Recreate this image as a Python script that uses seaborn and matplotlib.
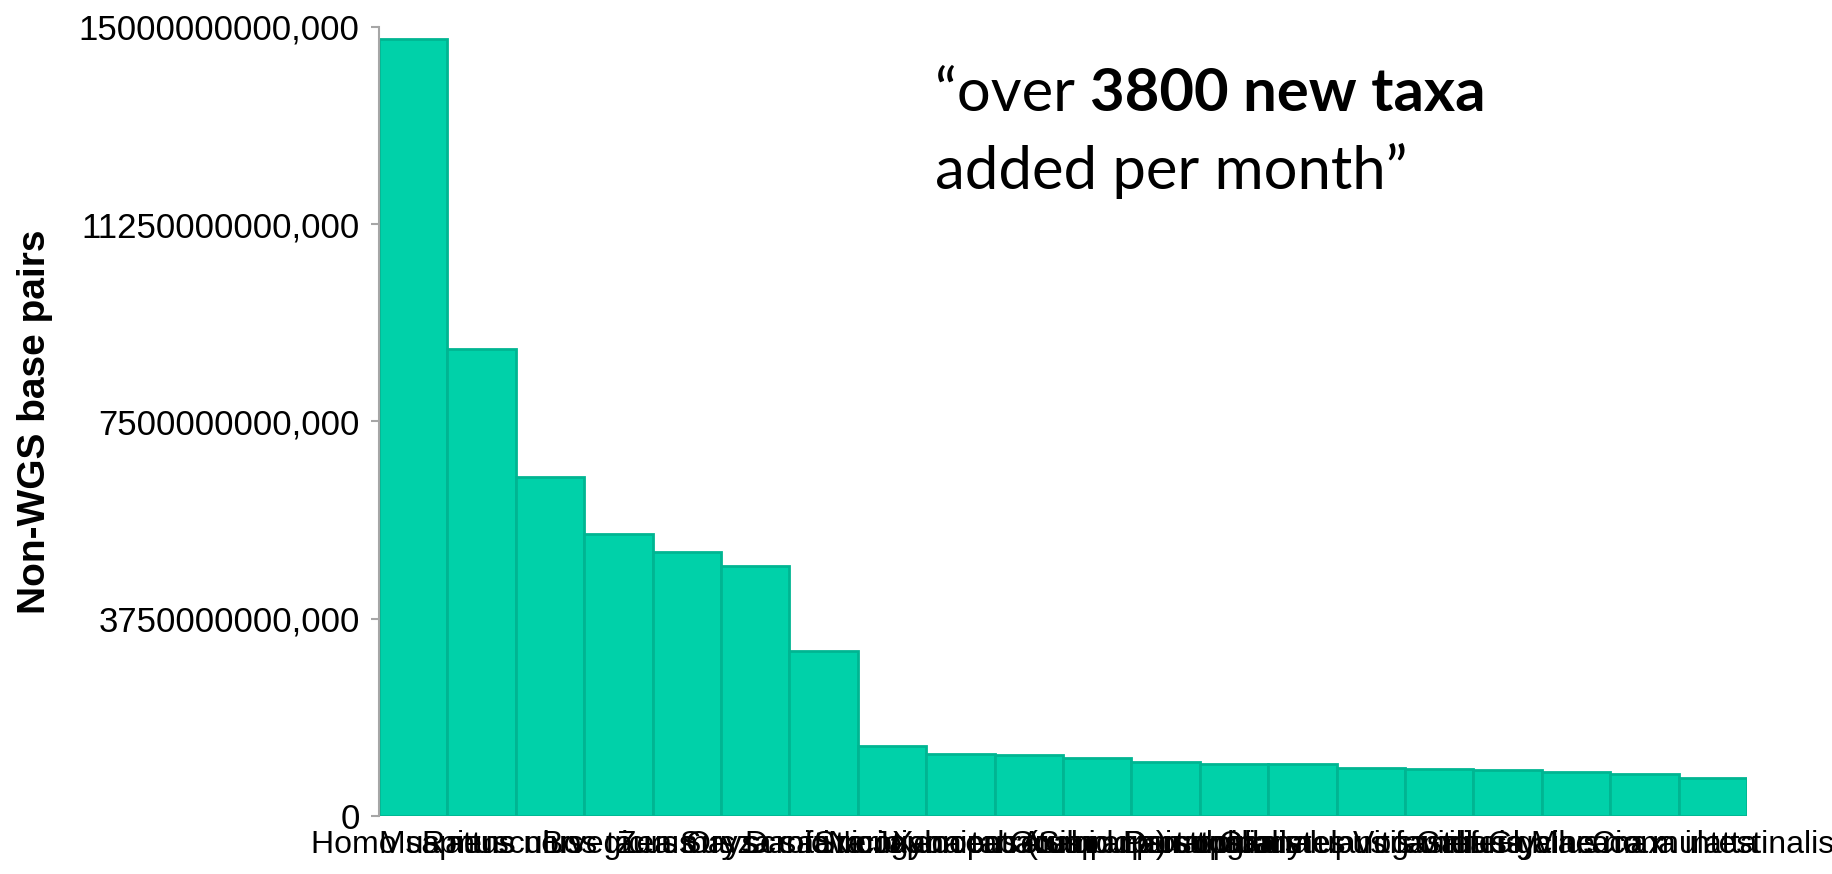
import matplotlib
matplotlib.use("Agg")
import matplotlib.pyplot as plt
import seaborn as sns
import pandas as pd
from matplotlib.ticker import FuncFormatter

species = [
    "Homo sapiens", "Mus musculus", "Rattus norvegicus", "Bos taurus",
    "Zea mays", "Sus scrofa", "Danio rerio", "Oryza sativa Japonica Group",
    "Nicotiana tabacum", "Strongylocentrotus purpuratus",
    "Xenopus (Silurana) tropicalis", "Arabidopsis thaliana",
    "Pan troglodytes", "Drosophila melanogaster", "Canis lupus familiaris",
    "Vitis vinifera", "Gallus gallus", "Glycine max", "Macaca mulatta",
    "Ciona intestinalis",
]
base_pairs = [
    14.78e12, 8.87e12, 6.44e12, 5.36e12, 5.02e12, 4.76e12, 3.13e12,
    1.33e12, 1.18e12, 1.16e12, 1.11e12, 1.02e12, 0.98e12, 0.98e12,
    0.91e12, 0.89e12, 0.87e12, 0.84e12, 0.80e12, 0.73e12,
]
y_ticks = [0, 3.75e12, 7.5e12, 11.25e12, 15e12]

df = pd.DataFrame({"species": species, "bp": base_pairs})

sns.set_theme(style="white")
plt.rcParams["font.family"] = ["Liberation Sans", "DejaVu Sans"]
plt.rcParams["text.color"] = "black"
plt.rcParams["axes.labelcolor"] = "black"
plt.rcParams["xtick.color"] = "black"
plt.rcParams["ytick.color"] = "black"

fig = plt.figure(figsize=(18.33, 8.74), dpi=100)
ax = fig.add_axes([379 / 1833, 1 - 816 / 874, (1747 - 379) / 1833, (816 - 27) / 874])

sns.barplot(data=df, x="species", y="bp", ax=ax, width=1.0,
            color="#00D1A9", saturation=1, edgecolor="#00B592", linewidth=2)

ax.set_xlim(-0.5, len(species) - 0.5)
ax.set_ylim(0, 15e12)
ax.set_yticks(y_ticks)
ax.yaxis.set_major_formatter(FuncFormatter(
    lambda v, p: "0" if v == 0 else f"{int(round(v / 1000))},000"))
ax.tick_params(axis="y", left=True, length=6, width=1.5, color="#a6a6a6",
               labelsize=25, pad=8, labelcolor="black")
ax.tick_params(axis="x", bottom=False, length=0, labelsize=23, pad=10,
               labelcolor="black")
for lab in ax.get_xticklabels():
    lab.set_ha("center")

ax.set_xlabel("")
ax.set_ylabel("")
for s in ["top", "right", "bottom"]:
    ax.spines[s].set_visible(False)
ax.spines["left"].set_color("#a6a6a6")
ax.spines["left"].set_linewidth(1.5)

fig.text(35 / 1833, 1 - 422 / 874, "Non-WGS base pairs", rotation=90,
         ha="center", va="center", fontsize=28, fontweight="bold",
         color="black")

# annotation text
fx, fy1, fy2 = 935 / 1833, 1 - 111 / 874, 1 - 189 / 874
t1 = fig.text(fx, fy1, "\u201cover ", fontsize=43, family="Lato",
              va="baseline", color="black")
fig.canvas.draw()
ax.annotate("3800 new taxa", xy=(1, 0), xycoords=t1, fontsize=43,
            family="Lato", fontweight="bold", va="bottom", ha="left",
            color="black", annotation_clip=False)
fig.text(fx, fy2, "added per month\u201d", fontsize=43, family="Lato",
         va="baseline", color="black")

fig.savefig("out.png", dpi=100)
